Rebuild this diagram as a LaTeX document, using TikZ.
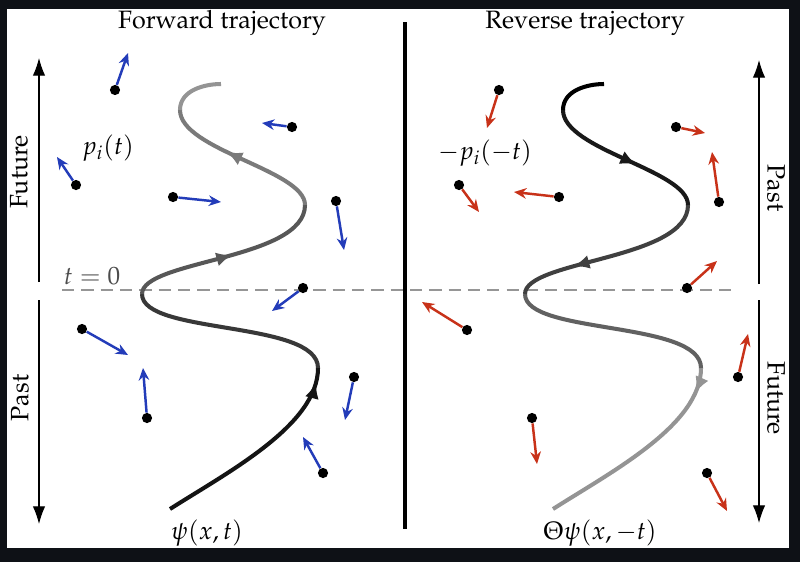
\documentclass[tikz,border=0pt]{standalone}
\usepackage[T1]{fontenc}
\usepackage{mathpazo}
\definecolor{fwdblue}{RGB}{35, 60, 185}
\definecolor{revred}{RGB}{200, 50, 25}
\definecolor{bgdark}{RGB}{14, 17, 22}
\definecolor{zerogray}{RGB}{150, 150, 150}
\usepackage{tikz}
\usetikzlibrary{arrows.meta, decorations.markings}
\tikzset{
  dot/.style={circle, fill=black, inner sep=0pt, minimum size=5.8pt},
  fwdarrow/.style={-{Stealth[length=7pt, width=6pt]}, line width=1.4pt, fwdblue},
  revarrow/.style={-{Stealth[length=7pt, width=6pt]}, line width=1.4pt, revred},
  timearrow/.style={-{Latex[length=10pt, width=7pt]}, line width=0.6pt},
  traj/.style={line width=2.3pt},
  fwdmark/.style={postaction={decorate, decoration={markings,
      mark=at position #1 with {\arrow{Latex[length=9pt, width=8pt]}}}}},
  revmark/.style={postaction={decorate, decoration={markings,
      mark=at position #1 with {\arrowreversed{Latex[length=9pt, width=8pt]}}}}},
  lbl/.style={font=\fontsize{14.3}{16}\selectfont}
}

\begin{document}
\begin{tikzpicture}[x=0.02cm, y=-0.02cm]
  \useasboundingbox (0, 0) rectangle (800, 562);
  % Frame
  \fill[bgdark] (0, 0) rectangle (800, 562);
  \fill[white] (7, 9) rectangle (789, 548);

  % Titles
  \node[lbl] (fwdtitle) at (222, 23) {Forward trajectory};
  \node[lbl] (revtitle) at (585, 23) {Reverse trajectory};

  % t = 0 line
  \coordinate (zeroL) at (62, 290);
  \coordinate (zeroR) at (738, 290);
  \draw[zerogray, line width=0.8pt, dash pattern=on 7pt off 4pt] (zeroL) -- (zeroR);
  \node[lbl, text=black!70] (tzero) at (92, 276) {$t=0$};

  % Divider
  \coordinate (divtop) at (405, 22);
  \coordinate (divbot) at (405, 529);
  \draw[line width=2pt] (divtop) -- (divbot);

  % Time axes, left
  \coordinate (la1) at (39, 282);  \coordinate (la2) at (39, 58);
  \coordinate (la3) at (39, 300);  \coordinate (la4) at (39, 524);
  \draw[timearrow] (la1) -- (la2);
  \draw[timearrow] (la3) -- (la4);
  \node[lbl, rotate=90] (lfuture) at (19, 172) {Future};
  \node[lbl, rotate=90] (lpast) at (20, 398) {Past};

  % Time axes, right
  \coordinate (ra1) at (759, 284);  \coordinate (ra2) at (759, 60);
  \coordinate (ra3) at (759, 300);  \coordinate (ra4) at (759, 523);
  \draw[timearrow] (ra1) -- (ra2);
  \draw[timearrow] (ra3) -- (ra4);
  \node[lbl, rotate=-90] (rpast) at (776, 188) {Past};
  \node[lbl, rotate=-90] (rfuture) at (776, 398) {Future};

  % Forward trajectory
  \draw[traj, black!92, fwdmark=0.93] (170, 509) .. controls (228, 472) and (318, 425) .. (318, 368);
  \draw[traj, black!78] (318, 368) .. controls (318, 320) and (142, 335) .. (142, 294);
  \draw[traj, black!66, fwdmark=0.52] (142, 294) .. controls (142, 260) and (305, 260) .. (305, 205);
  \draw[traj, black!52, fwdmark=0.6] (305, 205) .. controls (305, 170) and (180, 150) .. (180, 110);
  \draw[traj, black!42] (180, 110) .. controls (180, 90) and (205, 84) .. (221, 84);
  \node[lbl] (psi) at (207, 533) {$\psi(x,t)$};

  % Reverse trajectory
  \begin{scope}[shift={(383, 0)}]
    \draw[traj, black!42, revmark=0.88] (170, 509) .. controls (228, 472) and (318, 425) .. (318, 368);
    \draw[traj, black!62] (318, 368) .. controls (318, 320) and (142, 335) .. (142, 294);
    \draw[traj, black!75, revmark=0.3] (142, 294) .. controls (142, 260) and (305, 260) .. (305, 205);
    \draw[traj, black!90, revmark=0.42] (305, 205) .. controls (305, 170) and (180, 150) .. (180, 110);
    \draw[traj, black] (180, 110) .. controls (180, 90) and (205, 84) .. (221, 84);
  \end{scope}
  \node[lbl] (thetapsi) at (600, 533) {$\Theta\psi(x,-t)$};

  % Momenta, forward
  \node[lbl] (pfwd) at (108, 148) {$p_i(t)$};
  \node[dot] (f1) at (115, 90) {};   \coordinate (f1t) at (128, 53);   \draw[fwdarrow] (f1) -- (f1t);
  \node[dot] (f2) at (292, 127) {};  \coordinate (f2t) at (262, 123);  \draw[fwdarrow] (f2) -- (f2t);
  \node[dot] (f3) at (76, 185) {};   \coordinate (f3t) at (57, 157);   \draw[fwdarrow] (f3) -- (f3t);
  \node[dot] (f4) at (173, 197) {};  \coordinate (f4t) at (221, 202);  \draw[fwdarrow] (f4) -- (f4t);
  \node[dot] (f5) at (336, 201) {};  \coordinate (f5t) at (344, 250);  \draw[fwdarrow] (f5) -- (f5t);
  \node[dot] (f6) at (303, 288) {};  \coordinate (f6t) at (272, 311);  \draw[fwdarrow] (f6) -- (f6t);
  \node[dot] (f7) at (82, 329) {};   \coordinate (f7t) at (128, 355);  \draw[fwdarrow] (f7) -- (f7t);
  \node[dot] (f8) at (147, 418) {};  \coordinate (f8t) at (143, 368);  \draw[fwdarrow] (f8) -- (f8t);
  \node[dot] (f9) at (354, 377) {};  \coordinate (f9t) at (345, 420);  \draw[fwdarrow] (f9) -- (f9t);
  \node[dot] (f10) at (323, 473) {}; \coordinate (f10t) at (303, 437); \draw[fwdarrow] (f10) -- (f10t);

  % Momenta, reverse
  \node[lbl] (prev) at (485, 153) {$-p_i(-t)$};
  \node[dot] (r1) at (499, 90) {};   \coordinate (r1t) at (487, 128);  \draw[revarrow] (r1) -- (r1t);
  \node[dot] (r2) at (676, 127) {};  \coordinate (r2t) at (705, 133);  \draw[revarrow] (r2) -- (r2t);
  \node[dot] (r3) at (459, 185) {};  \coordinate (r3t) at (479, 212);  \draw[revarrow] (r3) -- (r3t);
  \node[dot] (r4) at (559, 197) {};  \coordinate (r4t) at (514, 192);  \draw[revarrow] (r4) -- (r4t);
  \node[dot] (r5) at (719, 202) {};  \coordinate (r5t) at (712, 152);  \draw[revarrow] (r5) -- (r5t);
  \node[dot] (r6) at (687, 288) {};  \coordinate (r6t) at (717, 261);  \draw[revarrow] (r6) -- (r6t);
  \node[dot] (r7) at (467, 330) {};  \coordinate (r7t) at (422, 302);  \draw[revarrow] (r7) -- (r7t);
  \node[dot] (r8) at (738, 377) {};  \coordinate (r8t) at (748, 334);  \draw[revarrow] (r8) -- (r8t);
  \node[dot] (r9) at (532, 418) {};  \coordinate (r9t) at (537, 464);  \draw[revarrow] (r9) -- (r9t);
  \node[dot] (r10) at (707, 473) {}; \coordinate (r10t) at (727, 511); \draw[revarrow] (r10) -- (r10t);
\end{tikzpicture}
\end{document}
